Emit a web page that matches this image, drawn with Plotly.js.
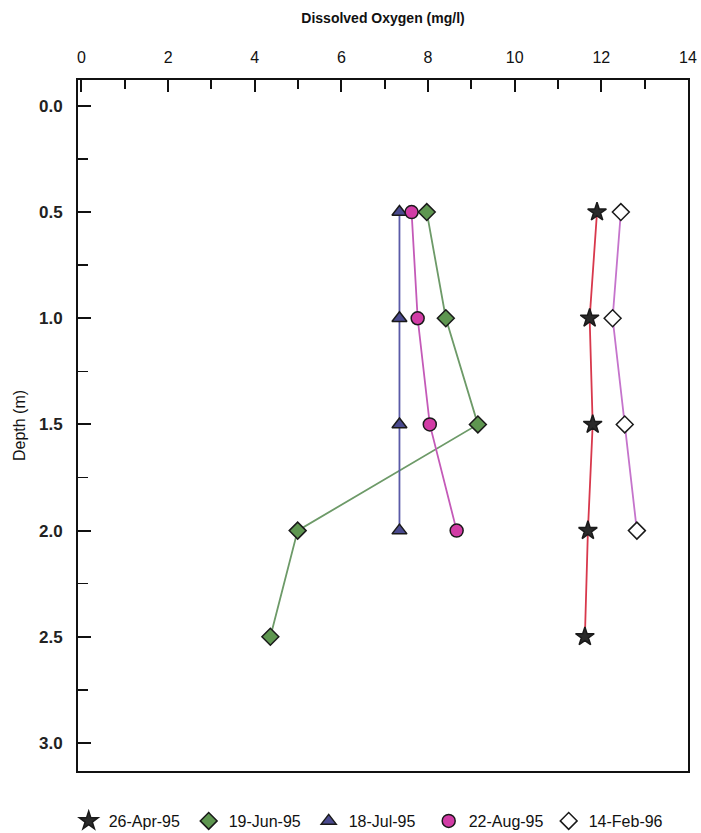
<!DOCTYPE html>
<html>
<head>
<meta charset="utf-8">
<script src="https://cdn.plot.ly/plotly-3.0.1.min.js"></script>
<style>html,body{margin:0;padding:0;background:#fff;}#chart{width:701px;height:833px;}</style>
</head>
<body>
<div id="chart"></div>
<script>
// Data
const seriesNames = ["26-Apr-95", "19-Jun-95", "18-Jul-95", "22-Aug-95", "14-Feb-96"];
const depthApr95 = [0.5, 1.0, 1.5, 2.0, 2.5];
const doApr95    = [11.9, 11.73, 11.8, 11.69, 11.62];
const depthJun95 = [0.5, 1.0, 1.5, 2.0, 2.5];
const doJun95    = [7.97, 8.41, 9.15, 4.99, 4.36];
const depthJul95 = [0.5, 1.0, 1.5, 2.0];
const doJul95    = [7.34, 7.34, 7.34, 7.34];
const depthAug95 = [0.5, 1.0, 1.5, 2.0];
const doAug95    = [7.62, 7.76, 8.04, 8.66];
const depthFeb96 = [0.5, 1.0, 1.5, 2.0];
const doFeb96    = [12.45, 12.26, 12.54, 12.82];
const xTickVals  = [0, 2, 4, 6, 8, 10, 12, 14];
const yTickVals  = [0.0, 0.5, 1.0, 1.5, 2.0, 2.5, 3.0];
const yTickText  = ["0.0", "0.5", "1.0", "1.5", "2.0", "2.5", "3.0"];

const font = "Liberation Sans, Arial, sans-serif";

const styles = [
  {x: doApr95, y: depthApr95, line: "#d8384c", symbol: "star", fill: "#2a2a2a", size: 14},
  {x: doJun95, y: depthJun95, line: "#6d9a68", symbol: "diamond", fill: "#5e9650", size: 13},
  {x: doJul95, y: depthJul95, line: "#5a5aa8", symbol: "triangle-up", fill: "#4a4a8e", size: 13},
  {x: doAug95, y: depthAug95, line: "#c45ab8", symbol: "circle", fill: "#d23ca6", size: 13},
  {x: doFeb96, y: depthFeb96, line: "#c574cc", symbol: "diamond", fill: "#ffffff", size: 13}
];

const data = [];
styles.forEach((s, i) => {
  data.push({
    type: "scatter", mode: "lines", x: s.x, y: s.y, showlegend: false,
    line: {color: s.line, width: 1.8}, hoverinfo: "skip"
  });
});
styles.forEach((s, i) => {
  data.push({
    type: "scatter", mode: "markers", name: seriesNames[i], x: s.x, y: s.y,
    marker: {symbol: s.symbol, size: s.size, color: s.fill, line: {color: "#1a1a1a", width: 1.5}},
    cliponaxis: false
  });
});

const layout = {
  width: 701, height: 833,
  paper_bgcolor: "#ffffff", plot_bgcolor: "#ffffff",
  margin: {l: 78, r: 13, t: 80, b: 62, autoexpand: false},
  font: {family: font, color: "#111", size: 13},
  showlegend: true,
  legend: {
    orientation: "h", xref: "container", x: 0.098, xanchor: "left",
    yref: "container", y: 0.0144, yanchor: "middle",
    font: {family: font, size: 16, color: "#111"},
    itemwidth: 30, entrywidth: 75, tracegroupgap: 0
  },
  xaxis: {
    side: "top", range: [-0.08, 14],
    tickvals: xTickVals, ticks: "inside", ticklen: 12, tickwidth: 2, tickcolor: "#111",
    minor: {dtick: 1, tick0: 0, ticks: "inside", ticklen: 9, tickwidth: 2, tickcolor: "#111", showgrid: false},
    showline: true, linecolor: "#111", linewidth: 2, mirror: true,
    showgrid: false, zeroline: false,
    tickfont: {family: font, size: 16, color: "#111"},
    ticklabelstandoff: 9,
    title: {text: "<b>Dissolved Oxygen (mg/l)</b>", font: {family: font, size: 14, color: "#111"}, standoff: 22}
  },
  yaxis: {
    range: [3.132, -0.122],
    tickvals: yTickVals, ticktext: yTickText.map(t => "<b>" + t + "</b>"),
    ticks: "inside", ticklen: 13, tickwidth: 2, tickcolor: "#111",
    minor: {dtick: 0.25, tick0: 0, ticks: "inside", ticklen: 10, tickwidth: 1.5, tickcolor: "#111", showgrid: false},
    showline: true, linecolor: "#111", linewidth: 2, mirror: true,
    showgrid: false, zeroline: false,
    tickfont: {family: font, size: 17, color: "#222"},
    ticklabelstandoff: 10,
    title: {text: "Depth (m)", font: {family: font, size: 16, color: "#111"}, standoff: 9}
  }
};

Plotly.newPlot("chart", data, layout, {staticPlot: true, displayModeBar: false});
</script>
</body>
</html>
